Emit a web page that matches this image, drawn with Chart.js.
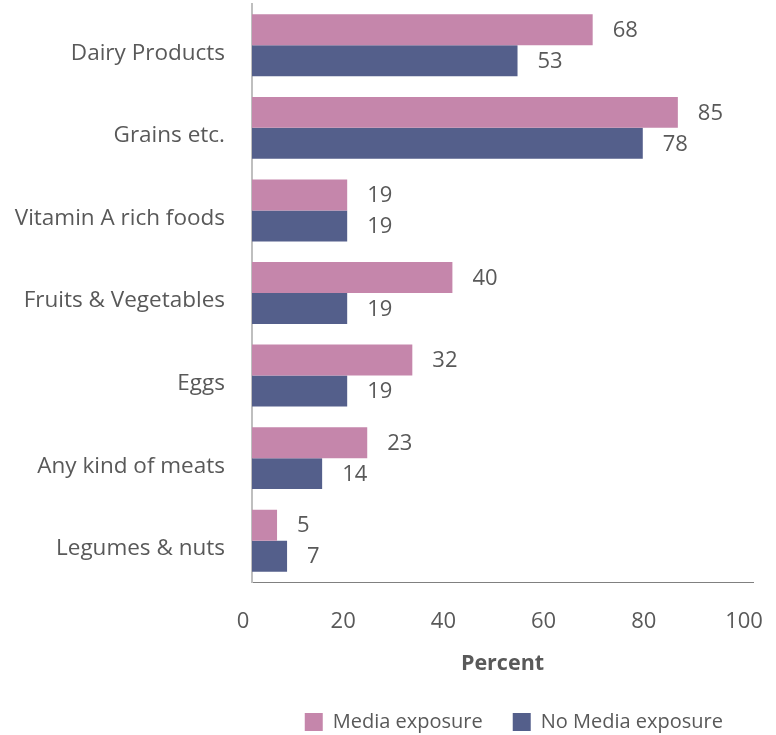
<!DOCTYPE html>
<html>
<head>
<meta charset="utf-8">
<script src="https://cdn.jsdelivr.net/npm/chart.js@4"></script>
<style>
  html, body { margin: 0; padding: 0; background: #ffffff; }
  #wrap { width: 776px; height: 735px; }
</style>
</head>
<body>
<div id="wrap"><canvas id="chart" width="776" height="735"></canvas></div>
<script>
// Food groups consumed, by exposure to media
const categories = [
  'Dairy Products',
  'Grains etc.',
  'Vitamin A rich foods',
  'Fruits & Vegetables',
  'Eggs',
  'Any kind of meats',
  'Legumes & nuts'
];
const mediaExposure = [68, 85, 19, 40, 32, 23, 5];
const noMediaExposure = [53, 78, 19, 19, 19, 14, 7];
const xTicks = [0, 20, 40, 60, 80, 100];

const TEXT = '#595959';
const FONT = '"Open Sans", "Noto Sans", sans-serif';

// Writes each bar's value just past its end
const valueLabels = {
  id: 'valueLabels',
  afterDatasetsDraw(chart) {
    const ctx = chart.ctx;
    ctx.save();
    ctx.font = '22px ' + FONT;
    ctx.fillStyle = TEXT;
    ctx.textAlign = 'left';
    ctx.textBaseline = 'middle';
    chart.data.datasets.forEach((ds, di) => {
      const meta = chart.getDatasetMeta(di);
      meta.data.forEach((bar, i) => {
        ctx.fillText(String(ds.data[i]), bar.x + 20, bar.y + 1);
      });
    });
    ctx.restore();
  }
};

// Keep the plot area fixed by layout padding alone
function clearScalePadding(scale) {
  scale.paddingLeft = 0;
  scale.paddingRight = 0;
  scale.paddingTop = 0;
  scale.paddingBottom = 0;
}

new Chart(document.getElementById('chart'), {
  type: 'bar',
  data: {
    labels: categories,
    datasets: [
      { label: 'Media exposure', data: mediaExposure, backgroundColor: '#c586ab', borderWidth: 0 },
      { label: 'No Media exposure', data: noMediaExposure, backgroundColor: '#545f8b', borderWidth: 0 }
    ]
  },
  options: {
    indexAxis: 'y',
    responsive: false,
    animation: false,
    devicePixelRatio: 1,
    categoryPercentage: 0.75,
    barPercentage: 1,
    layout: { padding: { left: 0, right: 23, top: 4, bottom: -7 } },
    plugins: {
      tooltip: { enabled: false },
      legend: {
        position: 'bottom',
        align: 'end',
        labels: {
          boxWidth: 18,
          boxHeight: 18,
          padding: 30,
          color: TEXT,
          font: { family: FONT, size: 20 }
        }
      }
    },
    scales: {
      x: {
        min: 0,
        max: 100,
        afterBuildTicks(scale) {
          scale.ticks = xTicks.map(v => ({ value: v }));
        },
        afterFit(scale) {
          scale.height = 100;
          clearScalePadding(scale);
        },
        grid: { display: false },
        border: { display: true, color: '#808080', width: 1 },
        ticks: {
          color: TEXT,
          font: { family: FONT, size: 22 },
          padding: 19,
          labelOffset: -9,
          maxRotation: 0
        },
        title: {
          display: true,
          text: 'Percent',
          color: TEXT,
          font: { family: FONT, size: 21.5, weight: 'bold' },
          padding: { top: 0, bottom: 5 }
        }
      },
      y: {
        afterFit(scale) {
          scale.width = 252;
          clearScalePadding(scale);
        },
        grid: { display: false },
        border: { display: true, color: '#bfbfbf', width: 2 },
        ticks: {
          color: TEXT,
          font: { family: FONT, size: 22.5 },
          padding: 19,
          labelOffset: 8
        }
      }
    }
  },
  plugins: [valueLabels]
});
</script>
</body>
</html>
